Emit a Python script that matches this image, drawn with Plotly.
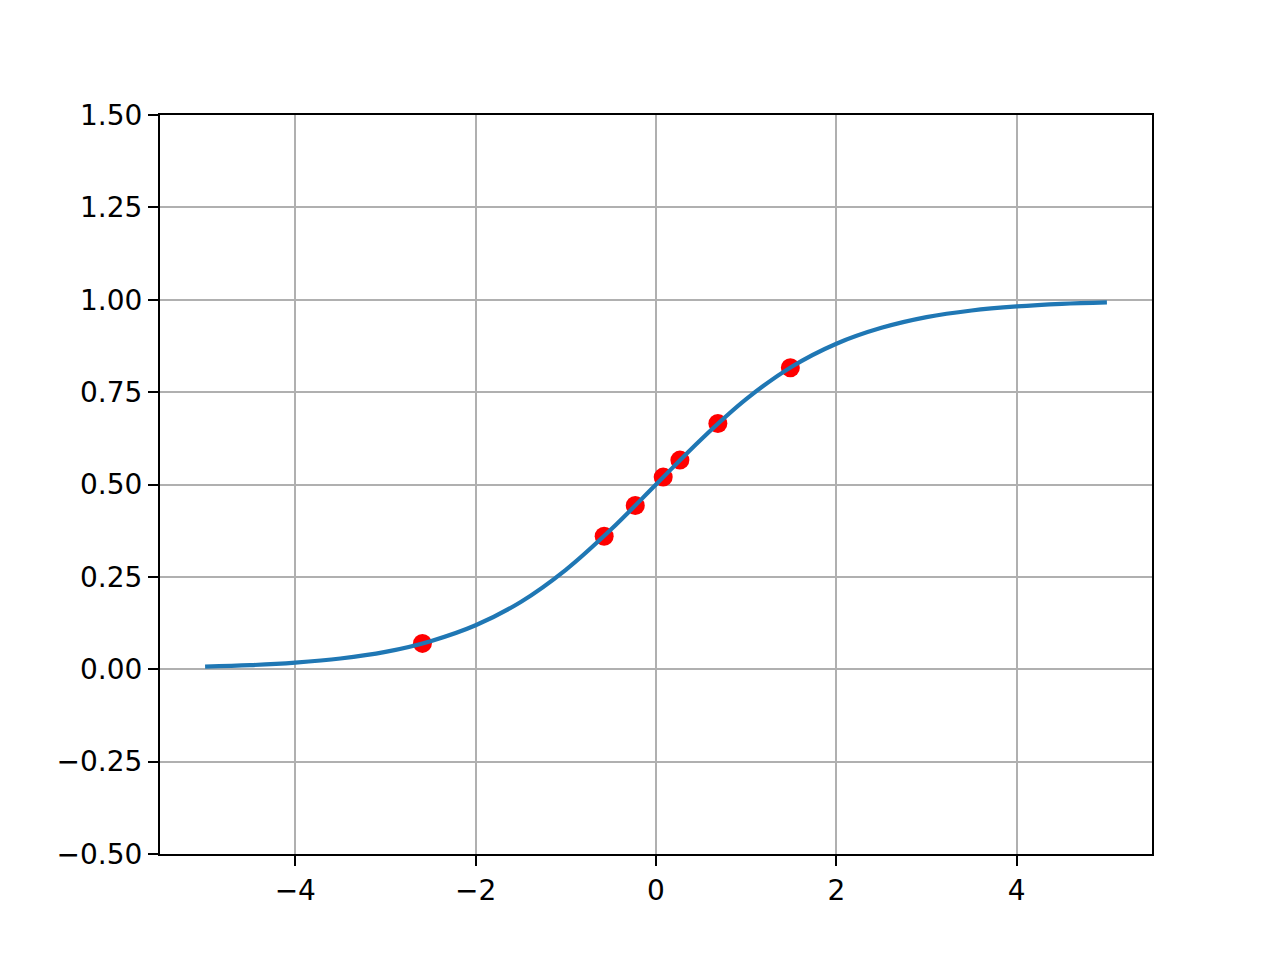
import plotly.graph_objects as go

# Curve values
curve_x = [-5, -4.5, -4, -3.5, -3, -2.5, -2, -1.5, -1, -0.5, 0, 0.5, 1, 1.5, 2, 2.5, 3, 3.5, 4, 4.5, 5]
curve_y = [0.007, 0.011, 0.018, 0.029, 0.047, 0.076, 0.119, 0.182, 0.269, 0.378, 0.5,
           0.622, 0.731, 0.818, 0.881, 0.924, 0.953, 0.971, 0.982, 0.989, 0.993]

# Red sample points
pts_x = [-2.59, -0.575, -0.23, 0.08, 0.265, 0.686, 1.49]
pts_y = [0.07, 0.36, 0.443, 0.52, 0.566, 0.665, 0.816]

x_ticks = [-4, -2, 0, 2, 4]
y_ticks = [-0.5, -0.25, 0, 0.25, 0.5, 0.75, 1.0, 1.25, 1.5]

fig = go.Figure()
fig.add_trace(go.Scatter(x=pts_x, y=pts_y, mode="markers",
                         marker=dict(color="red", size=19, line=dict(width=0)),
                         showlegend=False))
fig.add_trace(go.Scatter(x=curve_x, y=curve_y, mode="lines",
                         line=dict(color="#1f77b4", width=4.2, shape="spline"),
                         showlegend=False))

axis_common = dict(showline=True, linecolor="black", linewidth=2, mirror=True,
                   ticks="outside", ticklen=10, tickwidth=2, tickcolor="black",
                   showgrid=True, gridcolor="#b0b0b0", gridwidth=2, zeroline=False,
                   tickfont=dict(family="DejaVu Sans", size=28, color="black"))

fig.update_xaxes(range=[-5.5, 5.5], tickvals=x_ticks,
                 ticktext=[("\u2212" if v < 0 else "") + str(abs(v)) for v in x_ticks],
                 **axis_common)
fig.update_yaxes(range=[-0.5, 1.5], tickvals=y_ticks,
                 ticktext=[("\u2212" if v < 0 else "") + f"{abs(v):.2f}" for v in y_ticks],
                 **axis_common)

fig.update_layout(width=1280, height=960, plot_bgcolor="white", paper_bgcolor="white",
                  margin=dict(l=152, r=136, t=107, b=114, autoexpand=False),
                  font=dict(family="DejaVu Sans", color="black"))

fig.write_html("out.html")
